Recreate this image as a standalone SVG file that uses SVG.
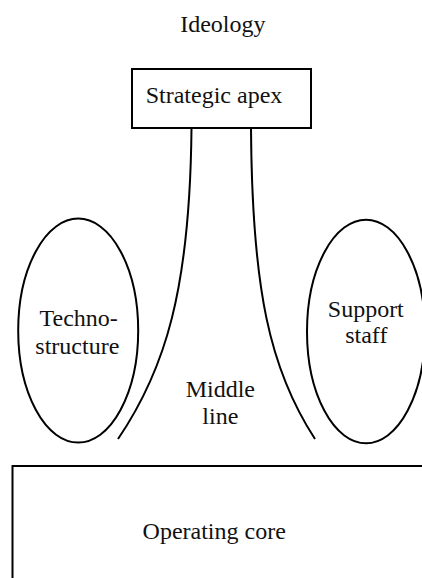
<svg xmlns="http://www.w3.org/2000/svg" width="422" height="578" viewBox="0 0 422 578">
  <style>
    .shape { fill: none; stroke: #000; stroke-width: 2; }
    .box { fill: #fff; stroke: #000; stroke-width: 2; }
    .label { font-family: "Liberation Serif", "Times New Roman", serif; font-size: 24px; fill: #111; text-anchor: middle; }
  </style>
  <rect width="422" height="578" fill="#fff"/>

  <g id="ideology">
    <text class="label" x="222.8" y="31.7">Ideology</text>
  </g>

  <g id="strategic-apex">
    <rect class="box" x="132" y="69" width="179" height="59"/>
    <text class="label" x="214" y="103.3">Strategic apex</text>
  </g>

  <g id="middle-line">
    <path class="shape" d="M191.5 128 C190 290 165 370 118 439"/>
    <path class="shape" d="M251 128 C252 290 270 370 315 439"/>
    <text class="label" x="220.3" y="397.3">Middle</text>
    <text class="label" x="220.3" y="424">line</text>
  </g>

  <g id="technostructure">
    <ellipse class="shape" cx="78.2" cy="330.6" rx="60" ry="112"/>
    <text class="label" x="78.7" y="326">Techno-</text>
    <text class="label" x="77.3" y="354">structure</text>
  </g>

  <g id="support-staff">
    <ellipse class="shape" cx="366" cy="331.5" rx="59" ry="111.8"/>
    <text class="label" x="365.8" y="317.3">Support</text>
    <text class="label" x="366.3" y="343.3">staff</text>
  </g>

  <g id="operating-core">
    <rect class="box" x="12.5" y="466" width="420" height="130"/>
    <text class="label" x="214.2" y="539.3">Operating core</text>
  </g>
</svg>
